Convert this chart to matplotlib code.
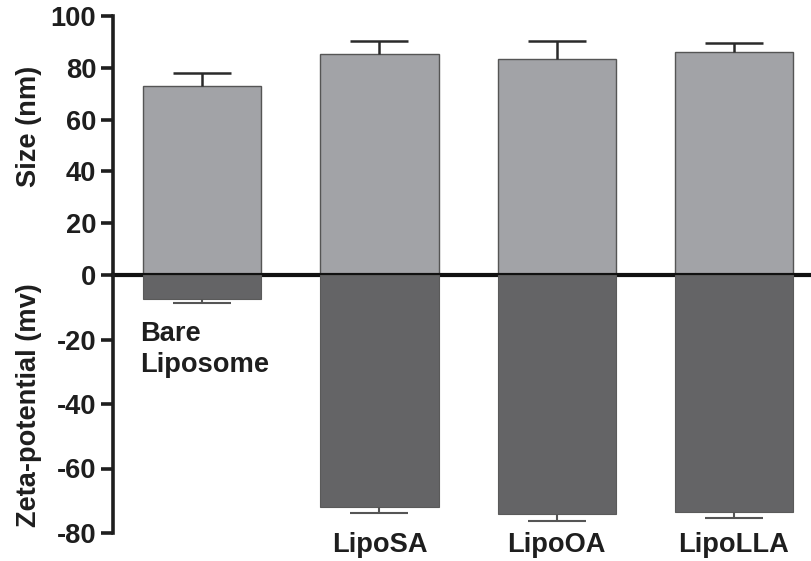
import matplotlib
matplotlib.use("Agg")
import matplotlib.pyplot as plt
import numpy as np

plt.rcParams['font.family'] = ['Liberation Sans', 'DejaVu Sans']
plt.rcParams['font.weight'] = 'bold'
plt.rcParams['axes.unicode_minus'] = False

categories = ["Bare\nLiposome", "LipoSA", "LipoOA", "LipoLLA"]
size_nm = [73.0, 85.5, 83.5, 86.0]
size_err = [5.0, 5.0, 7.0, 3.5]
zeta_mv = [-7.5, -72.0, -74.0, -73.5]
zeta_err = [1.2, 1.8, 2.3, 2.0]
size_ticks = [0, 20, 40, 60, 80, 100]
zeta_ticks = [-80, -60, -40, -20]

W, H = 812, 561
fig = plt.figure(figsize=(W / 100, H / 100), dpi=100)

left_px, zero_px, top_px, bot_px = 113, 275, 16, 533
ax_t = fig.add_axes([left_px / W, (H - zero_px) / H, (W - left_px) / W, (zero_px - top_px) / H])
ax_b = fig.add_axes([left_px / W, (H - bot_px) / H, (W - left_px) / W, (bot_px - zero_px) / H])

x = np.arange(len(categories))
light = '#a2a3a7'
dark = '#646466'
txt = '#1e1e1e'
fs = 19.6

ax_t.bar(x, size_nm, width=0.667, color=light, edgecolor='#555555', linewidth=1.0, zorder=2)
eb_t = ax_t.errorbar(x, size_nm, yerr=[np.zeros(len(x)), size_err], fmt='none',
                     ecolor='#2a2a2a', elinewidth=1.8, capsize=21, capthick=1.8, zorder=3)
eb_t[1][0].set_visible(False)  # hide cap at bar top

ax_b.bar(x, zeta_mv, width=0.667, color=dark, edgecolor='#5a5a5a', linewidth=0.8, zorder=2)
eb_b = ax_b.errorbar(x, zeta_mv, yerr=[zeta_err, np.zeros(len(x))], fmt='none',
                     ecolor='#555555', elinewidth=1.5, capsize=21, capthick=1.5, zorder=3)
eb_b[1][1].set_visible(False)  # hide cap at bar end

for ax in (ax_t, ax_b):
    ax.set_xlim(-0.503, 3.44)
    ax.set_xticks([])
    ax.spines['right'].set_visible(False)
    ax.spines['left'].set_linewidth(2.6)
    ax.spines['left'].set_color(txt)
    ax.tick_params(axis='y', direction='out', length=9, width=2.6, color=txt,
                   labelsize=fs, labelcolor=txt, pad=3)
    ax.patch.set_visible(False)

ax_t.set_ylim(0, 100)
ax_t.set_yticks(size_ticks)
ax_t.spines['top'].set_visible(False)
ax_t.spines['bottom'].set_linewidth(3.0)
ax_t.spines['bottom'].set_color('#111111')
ax_t.spines['bottom'].set_zorder(5)

ax_b.set_ylim(-80, 0)
ax_b.set_yticks(zeta_ticks)
ax_b.spines['top'].set_visible(False)
ax_b.spines['bottom'].set_visible(False)

for ax in (ax_t, ax_b):
    for lab in ax.get_yticklabels():
        lab.set_fontweight('bold')

fig.text(29 / W, 1 - 126 / H, "Size (nm)", rotation=90, ha='center', va='center',
         fontsize=fs, fontweight='bold', color=txt)
fig.text(29 / W, 1 - 405 / H, "Zeta-potential (mv)", rotation=90, ha='center', va='center',
         fontsize=fs, fontweight='bold', color=txt)

# category labels
ax_b.text(x[0] - 0.35, -14.3, categories[0], ha='left', va='top', fontsize=fs,
          fontweight='bold', color=txt, linespacing=1.22)
for i in range(1, len(categories)):
    ax_b.text(x[i], -83.6, categories[i], ha='center', va='center', fontsize=fs,
              fontweight='bold', color=txt, clip_on=False)

fig.savefig("out.png", dpi=100)
